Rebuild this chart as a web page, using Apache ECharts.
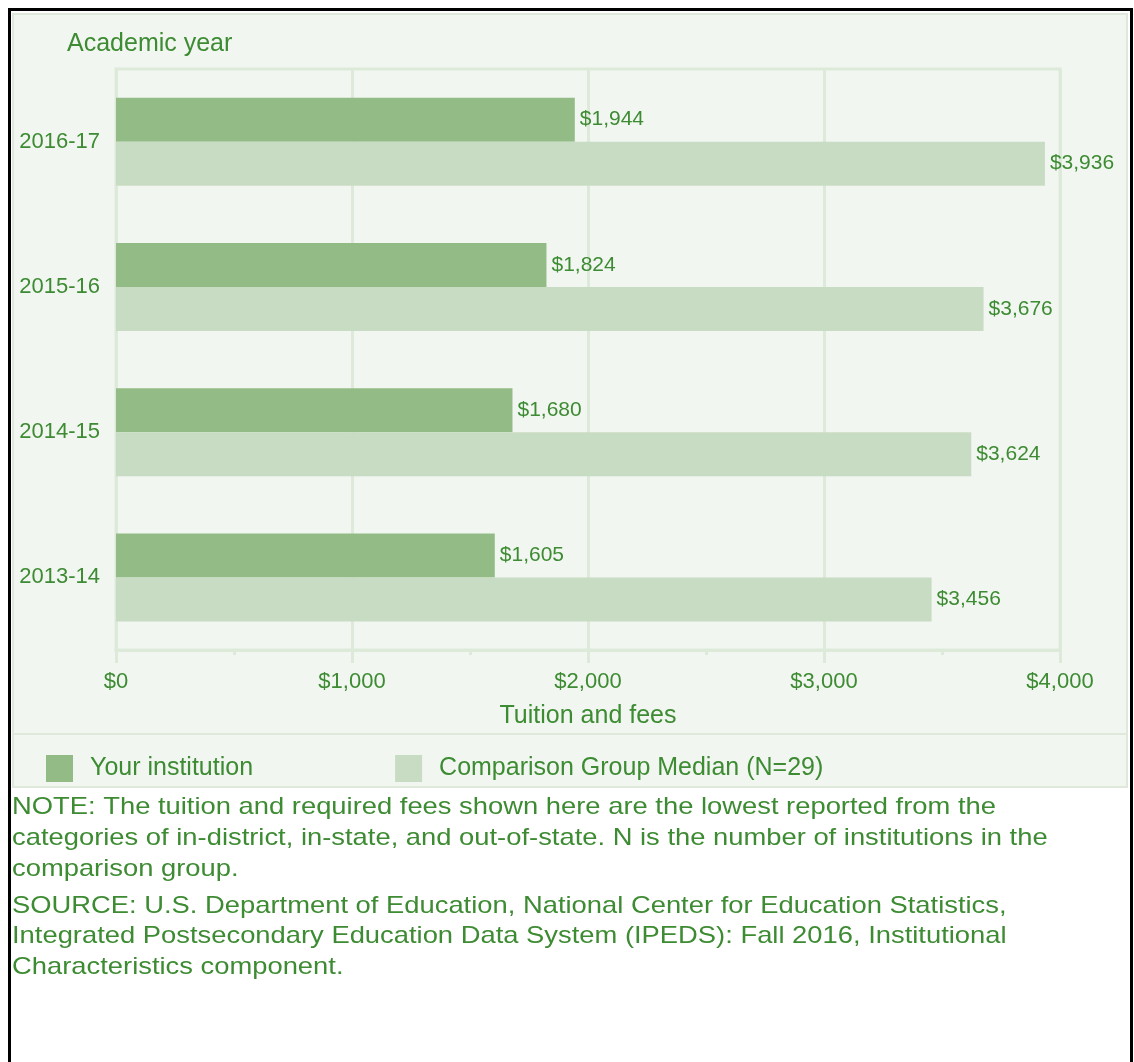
<!DOCTYPE html>
<html>
<head>
<meta charset="utf-8">
<script src="https://cdn.jsdelivr.net/npm/echarts@6/dist/echarts.min.js"></script>
<style>
  body { margin: 0; overflow: hidden; background: #fff; }
  #wrap { position: relative; width: 1134px; height: 1062px; overflow: hidden; }
  .frame { position: absolute; left: 8px; top: 8px; width: 1119px; height: 1070px; border: 3px solid #000; }
  .panel { position: absolute; left: 12px; top: 13px; width: 1112px; height: 771px; background: #f1f6f0; border: 2px solid #dfe9db; }
  .sep { position: absolute; left: 12px; top: 733px; width: 1116px; height: 2px; background: #dfe9db; }
  #chart { position: absolute; left: 0; top: 0; width: 1134px; height: 1062px; }
</style>
</head>
<body>
<div id="wrap">
  <div class="frame"></div>
  <div class="panel"></div>
  <div class="sep"></div>
  <div id="chart"></div>
</div>
<script>
// 数据
const years = ["2016-17", "2015-16", "2014-15", "2013-14"];
const yourInstitution = [1944, 1824, 1680, 1605];
const comparisonMedian = [3936, 3676, 3624, 3456];
const xTicks = [0, 1000, 2000, 3000, 4000];
const noteLines = [
  "NOTE: The tuition and required fees shown here are the lowest reported from the",
  "categories of in-district, in-state, and out-of-state. N is the number of institutions in the",
  "comparison group."
];
const sourceLines = [
  "SOURCE: U.S. Department of Education, National Center for Education Statistics,",
  "Integrated Postsecondary Education Data System (IPEDS): Fall 2016, Institutional",
  "Characteristics component."
];

const green = "#3d8b32";
const lineColor = "#dde9d9";
const font = "'Liberation Sans', Arial, sans-serif";

function money(v) {
  return "$" + Number(v).toLocaleString("en-US");
}

// 注释文字（参考图的文字略宽，用 scaleX 拉伸）
const textEls = [];
noteLines.forEach((t, i) => {
  textEls.push({ type: "text", left: 12, top: 795 + i * 31, scaleX: 1.14, style: { text: t, fill: green, font: "24px " + font } });
});
sourceLines.forEach((t, i) => {
  textEls.push({ type: "text", left: 12, top: 894 + i * 30.5, scaleX: 1.14, style: { text: t, fill: green, font: "24px " + font } });
});
textEls.push({ type: "text", left: 67, top: 32, style: { text: "Academic year", fill: green, font: "25px " + font } });

var myChart = echarts.init(document.getElementById("chart"));
var option = {
  animation: false,
  textStyle: { fontFamily: font },
  grid: {
    left: 116, right: 74, top: 69, bottom: 412,
    show: true, borderColor: lineColor, borderWidth: 3, backgroundColor: "transparent"
  },
  legend: {
    left: 41, top: 750,
    itemWidth: 27, itemHeight: 27, itemGap: 142,
    icon: "rect",
    textStyle: { color: green, fontSize: 25, padding: [0, 0, 0, 12] },
    data: ["Your institution", "Comparison Group Median (N=29)"]
  },
  xAxis: {
    type: "value",
    min: xTicks[0], max: xTicks[xTicks.length - 1], interval: 1000,
    name: "Tuition and fees",
    nameLocation: "middle",
    nameGap: 54,
    nameTextStyle: { color: green, fontSize: 25 },
    axisLine: { show: true, lineStyle: { color: lineColor, width: 3 } },
    axisTick: { show: true, length: 13, lineStyle: { color: lineColor, width: 3 } },
    minorTick: { show: true, splitNumber: 2, length: 5, lineStyle: { color: lineColor, width: 3 } },
    splitLine: { show: true, lineStyle: { color: lineColor, width: 3 } },
    axisLabel: { color: green, fontSize: 22, margin: 21, formatter: money }
  },
  yAxis: {
    type: "category",
    data: years,
    inverse: true,
    axisLine: { show: true, lineStyle: { color: lineColor, width: 3 } },
    axisTick: { show: false },
    axisLabel: { color: green, fontSize: 22, margin: 16 }
  },
  series: [
    {
      name: "Your institution",
      type: "bar",
      data: yourInstitution,
      barWidth: 44,
      barGap: "0%",
      itemStyle: { color: "#93bb86" },
      label: { show: true, position: "right", distance: 5, color: green, fontSize: 21, formatter: p => money(p.value) }
    },
    {
      name: "Comparison Group Median (N=29)",
      type: "bar",
      data: comparisonMedian,
      barWidth: 44,
      barGap: "0%",
      itemStyle: { color: "#c8dcc3" },
      label: { show: true, position: "right", distance: 5, color: green, fontSize: 21, formatter: p => money(p.value) }
    }
  ],
  graphic: textEls
};
myChart.setOption(option);
</script>
</body>
</html>
